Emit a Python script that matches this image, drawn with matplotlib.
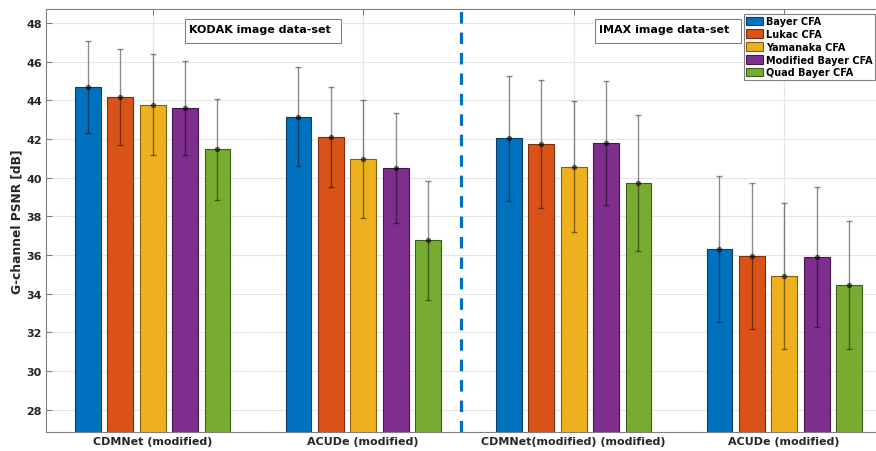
import matplotlib
matplotlib.use("Agg")
import matplotlib.pyplot as plt
from matplotlib.patches import Rectangle, Patch
import numpy as np

methods = ["CDMNet (modified)", "ACUDe (modified)",
           "CDMNet(modified) (modified)", "ACUDe (modified)"]
cfas = ["Bayer CFA", "Lukac CFA", "Yamanaka CFA", "Modified Bayer CFA", "Quad Bayer CFA"]

bayer = [44.67, 43.14, 42.03, 36.32]
lukac = [44.16, 42.10, 41.74, 35.96]
yamanaka = [43.78, 40.98, 40.57, 34.90]
mod_bayer = [43.60, 40.48, 41.79, 35.88]
quad_bayer = [41.48, 36.76, 39.74, 34.45]

bayer_err = [2.38, 2.56, 3.23, 3.78]
lukac_err = [2.49, 2.58, 3.29, 3.78]
yamanaka_err = [2.60, 3.06, 3.38, 3.78]
mod_bayer_err = [2.45, 2.85, 3.22, 3.62]
quad_bayer_err = [2.61, 3.06, 3.52, 3.32]

series = [bayer, lukac, yamanaka, mod_bayer, quad_bayer]
errors = [bayer_err, lukac_err, yamanaka_err, mod_bayer_err, quad_bayer_err]
colors = ["#0072BD", "#D95319", "#EDB120", "#7E2F8E", "#77AC30"]
edges = ["#0a3d66", "#7a2e0e", "#7f5f10", "#45184d", "#3f5c18"]

plt.rcParams['font.family'] = ['DejaVu Sans']
plt.rcParams['font.weight'] = 'bold'

fig = plt.figure(figsize=(8.76, 4.52), dpi=100)
ax = fig.add_axes([46 / 876, 19 / 452, 864.5 / 876, 423 / 452])

x = np.arange(1, len(methods) + 1)
step = 0.769 / 5
width = step * 0.8
for i, (vals, errs) in enumerate(zip(series, errors)):
    pos = x + (i - 2) * step
    ax.bar(pos, vals, width, color=colors[i], edgecolor=edges[i], linewidth=0.8, zorder=2)
    ax.errorbar(pos, vals, yerr=errs, fmt='o', markersize=3, color='black', alpha=0.45,
                elinewidth=1, capsize=2, capthick=1, zorder=3)

# separator between the two data sets
ax.axvline(2.466, color='#0072BD', linewidth=2.3, linestyle=(0, (3.6, 2.8)), zorder=4)

ax.set_xlim(0.493, 4.6)
ax.set_ylim(26.85, 48.72)
ax.set_yticks(np.arange(28, 49, 2))
ax.set_xticks(x)
ax.set_xticklabels(methods)
ax.set_ylabel("G-channel PSNR [dB]", fontsize=8.8, fontweight='bold', color='#262626', labelpad=2)
ax.tick_params(axis='both', direction='in', labelsize=8, colors='#808080',
               labelcolor='#262626', length=4, top=True, right=True)
ax.tick_params(axis='x', pad=3)
ax.tick_params(axis='y', pad=3)
for lab in ax.get_xticklabels() + ax.get_yticklabels():
    lab.set_fontweight('bold')
for s in ax.spines.values():
    s.set_color('#808080')
    s.set_linewidth(0.8)
ax.grid(True, color='#e6e6e6', linewidth=0.8, zorder=0)
ax.set_axisbelow(True)

# text boxes
for x0, x1, tx, label in [(185, 341, 189, "KODAK image data-set"),
                          (595, 741, 599, "IMAX image data-set")]:
    fig.add_artist(Rectangle((x0 / 876, (452 - 44) / 452), (x1 - x0) / 876, 24 / 452,
                             transform=fig.transFigure, facecolor='white',
                             edgecolor='#808080', linewidth=0.8, zorder=5))
    fig.text(tx / 876, (452 - 30) / 452, label, fontsize=8, fontweight='bold',
             color='black', va='center', ha='left', zorder=6)

handles = [Patch(facecolor=c, edgecolor=e, linewidth=0.8) for c, e in zip(colors, edges)]
leg = fig.legend(handles, cfas, loc='upper left', bbox_to_anchor=(744 / 876, (452 - 15) / 452),
                 prop={'weight': 'bold', 'size': 7}, fancybox=False, framealpha=1,
                 edgecolor='#808080', labelspacing=0.28, handlelength=1.75, handleheight=1.0,
                 handletextpad=0.3, borderpad=0.25, borderaxespad=0)
leg.get_frame().set_linewidth(0.8)

fig.savefig("out.png", dpi=100)
